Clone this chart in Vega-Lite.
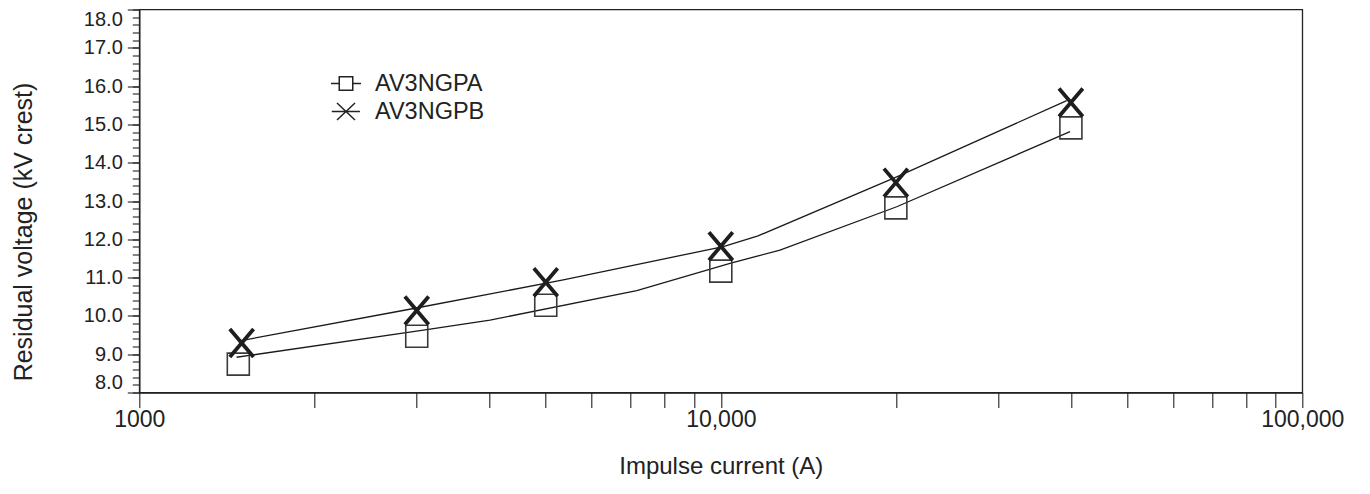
{
  "$schema": "https://vega.github.io/schema/vega-lite/v6.json",
  "autosize": "none",
  "width": 1163,
  "height": 383,
  "padding": {"left": 139.3, "top": 9.5, "right": 67.7, "bottom": 101.5},
  "background": "white",
  "config": {
    "font": "Liberation Sans",
    "view": {"stroke": "#222", "strokeWidth": 1.3},
    "axis": {"domainColor": "#222", "tickColor": "#222", "labelColor": "#222", "titleColor": "#222", "grid": false, "titleFontWeight": "normal", "domainWidth": 1.3, "tickWidth": 1.1}
  },
  "datasets": {
    "markers": [
      {"current": 1480, "voltage": 8.74, "series": "AV3NGPA"},
      {"current": 3000, "voltage": 9.47, "series": "AV3NGPA"},
      {"current": 5000, "voltage": 10.28, "series": "AV3NGPA"},
      {"current": 10000, "voltage": 11.17, "series": "AV3NGPA"},
      {"current": 20000, "voltage": 12.82, "series": "AV3NGPA"},
      {"current": 40000, "voltage": 14.91, "series": "AV3NGPA"},
      {"current": 1500, "voltage": 9.29, "series": "AV3NGPB"},
      {"current": 3000, "voltage": 10.14, "series": "AV3NGPB"},
      {"current": 5000, "voltage": 10.88, "series": "AV3NGPB"},
      {"current": 10000, "voltage": 11.82, "series": "AV3NGPB"},
      {"current": 20000, "voltage": 13.48, "series": "AV3NGPB"},
      {"current": 40000, "voltage": 15.57, "series": "AV3NGPB"}
    ],
    "curves": [
      {"current": 1470, "voltage": 8.92, "series": "AV3NGPA"},
      {"current": 3080, "voltage": 9.63, "series": "AV3NGPA"},
      {"current": 4010, "voltage": 9.89, "series": "AV3NGPA"},
      {"current": 7170, "voltage": 10.66, "series": "AV3NGPA"},
      {"current": 10370, "voltage": 11.37, "series": "AV3NGPA"},
      {"current": 12640, "voltage": 11.72, "series": "AV3NGPA"},
      {"current": 20070, "voltage": 12.85, "series": "AV3NGPA"},
      {"current": 39860, "voltage": 14.81, "series": "AV3NGPA"},
      {"current": 1490, "voltage": 9.35, "series": "AV3NGPB"},
      {"current": 2980, "voltage": 10.2, "series": "AV3NGPB"},
      {"current": 5360, "voltage": 10.94, "series": "AV3NGPB"},
      {"current": 10100, "voltage": 11.81, "series": "AV3NGPB"},
      {"current": 11590, "voltage": 12.09, "series": "AV3NGPB"},
      {"current": 20070, "voltage": 13.63, "series": "AV3NGPB"},
      {"current": 39340, "voltage": 15.62, "series": "AV3NGPB"}
    ]
  },
  "resolve": {"axis": {"y": "independent"}},
  "layer": [
    {
      "data": {"name": "curves"},
      "mark": {"type": "line", "stroke": "#1a1a1a", "strokeWidth": 1.3},
      "encoding": {
        "x": {"field": "current", "type": "quantitative", "scale": {"type": "log", "domain": [1000, 100000], "nice": false},
          "axis": {"title": "Impulse current (A)", "values": [1000, 2000, 3000, 4000, 5000, 6000, 7000, 8000, 9000, 10000, 20000, 30000, 40000, 50000, 60000, 70000, 80000, 90000, 100000],
            "labelExpr": "datum.value == 1000 ? '1000' : (datum.value == 10000 ? '10,000' : (datum.value == 100000 ? '100,000' : ''))",
            "tickSize": 15, "labelPadding": 1, "labelFontSize": 23, "labelFlush": false, "labelOverlap": false, "labelBound": false, "titleFontSize": 24, "titlePadding": 23}},
        "y": {"field": "voltage", "type": "quantitative", "scale": {"domain": [8, 18], "nice": false, "zero": false},
          "axis": {"orient": "left", "title": "Residual voltage (kV crest)", "values": [8, 9, 10, 11, 12, 13, 14, 15, 16, 17, 18], "format": ".1f",
            "tickSize": 12, "labelPadding": 5, "labelFontSize": 20, "labelFlush": true, "titleFontSize": 25, "titlePadding": 47, "titleY": 222}},
        "detail": {"field": "series", "type": "nominal"}
      }
    },
    {
      "data": {"name": "markers"},
      "mark": {"type": "point", "opacity": 0},
      "encoding": {
        "x": {"field": "current", "type": "quantitative"},
        "y": {"field": "voltage", "type": "quantitative",
          "axis": {"orient": "left", "values": [8, 8.2, 8.4, 8.6, 8.8, 9, 9.2, 9.4, 9.6, 9.8, 10, 10.2, 10.4, 10.6, 10.8, 11, 11.2, 11.4, 11.6, 11.8, 12, 12.2, 12.4, 12.6, 12.8, 13, 13.2, 13.4, 13.6, 13.8, 14, 14.2, 14.4, 14.6, 14.8, 15, 15.2, 15.4, 15.6, 15.8, 16, 16.2, 16.4, 16.6, 16.8, 17, 17.2, 17.4, 17.6, 17.8, 18],
            "labels": false, "domain": false, "tickSize": 7, "title": null}},
        "shape": {"field": "series", "type": "nominal",
          "scale": {"domain": ["AV3NGPA", "AV3NGPB"], "range": ["M-1,0H-0.45M0.45,0H1M-0.45,-0.45H0.45V0.45H-0.45Z", "M-0.95,0H0.93M-0.6,-0.57L0.6,0.57M0.6,-0.57L-0.6,0.57"]},
          "legend": {"title": null, "orient": "none", "legendX": 190.7, "legendY": 58, "padding": 0, "rowPadding": 0, "symbolSize": 900, "symbolStrokeWidth": 1.5, "symbolStrokeColor": "#222", "symbolFillColor": "transparent", "symbolOpacity": 1, "labelFontSize": 23.5, "labelColor": "#222", "labelOffset": 13}}
      }
    },
    {
      "data": {"name": "markers"},
      "transform": [{"filter": "datum.series == 'AV3NGPA'"}],
      "mark": {"type": "point", "filled": false, "opacity": 1, "shape": "square", "size": 484, "stroke": "#3a3a3a", "strokeWidth": 1.6},
      "encoding": {
        "x": {"field": "current", "type": "quantitative"},
        "y": {"field": "voltage", "type": "quantitative", "axis": null}
      }
    },
    {
      "data": {"name": "markers"},
      "transform": [{"filter": "datum.series == 'AV3NGPB'"}],
      "mark": {"type": "point", "filled": false, "opacity": 1, "shape": "M-0.85,-1L0.85,1M0.85,-1L-0.85,1", "size": 784, "stroke": "#1e1e1e", "strokeWidth": 3.8, "strokeCap": "butt"},
      "encoding": {
        "x": {"field": "current", "type": "quantitative"},
        "y": {"field": "voltage", "type": "quantitative", "axis": null}
      }
    }
  ]
}
